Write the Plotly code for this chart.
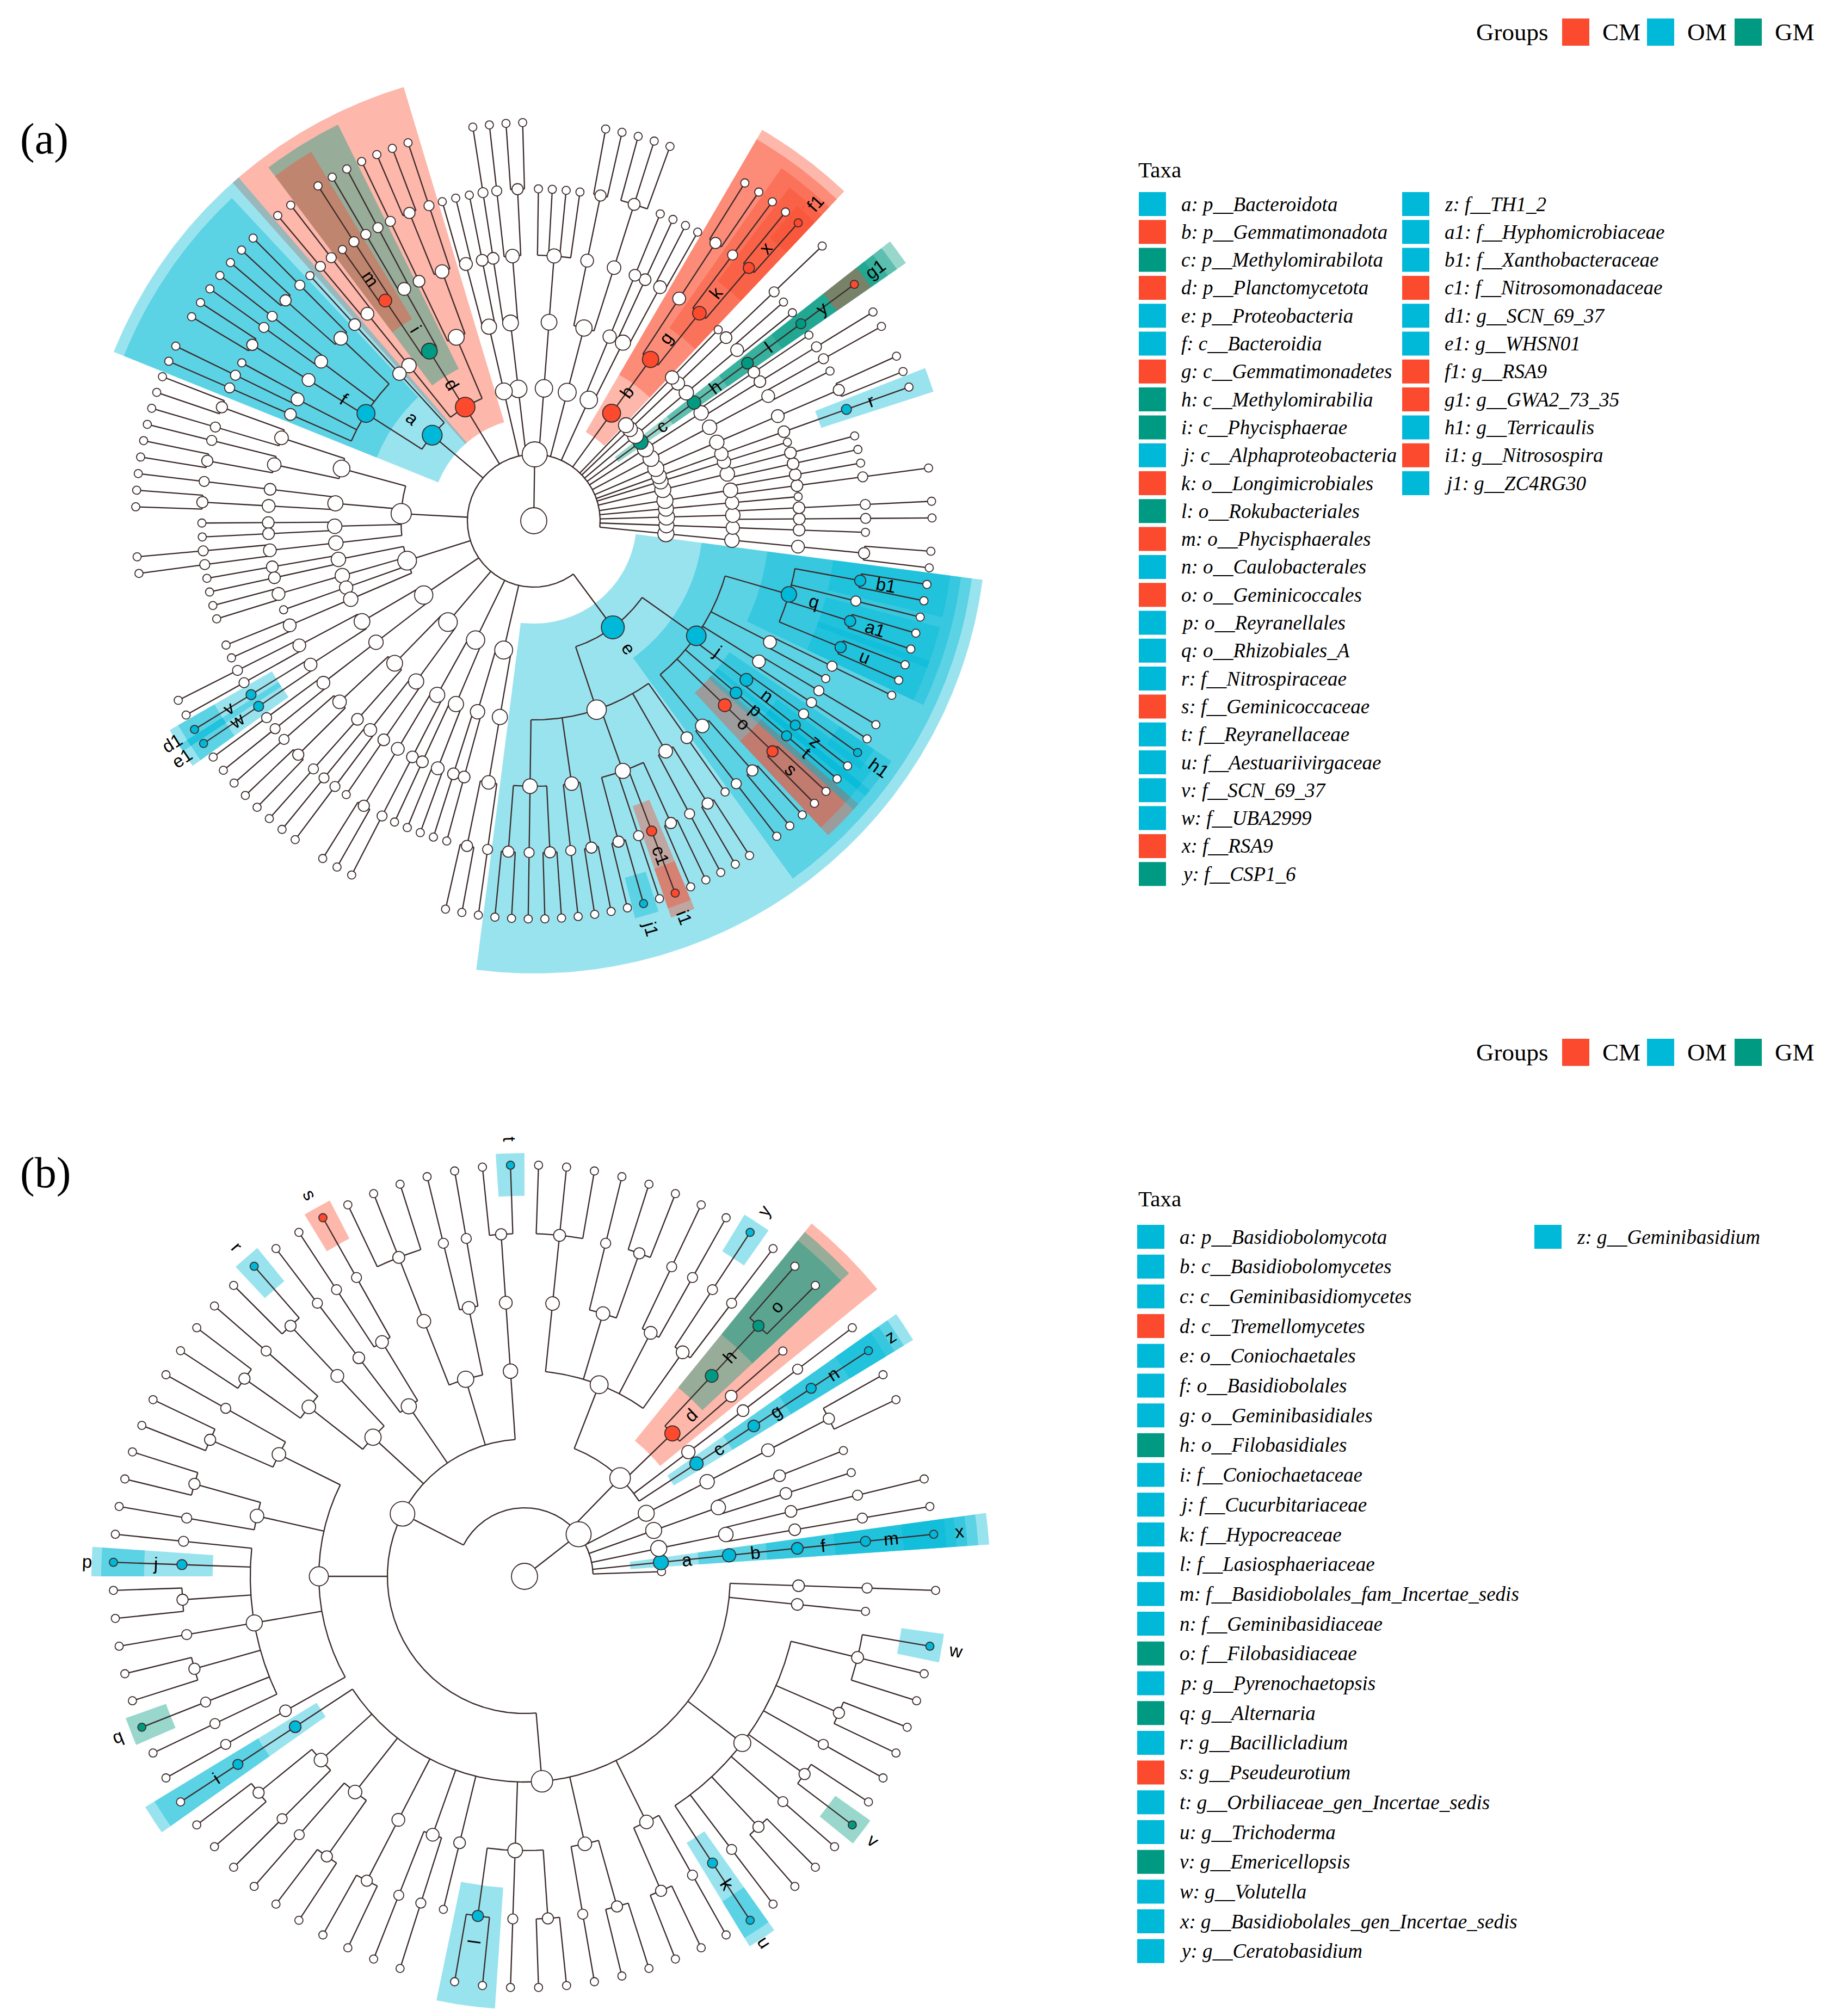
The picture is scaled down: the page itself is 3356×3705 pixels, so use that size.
import math
import plotly.graph_objects as go

W, H = 3356, 3705
SHIFT = 8  # page body margin of the browser
GROUP_COLOR = {"CM": "#FB4A2E", "OM": "#00B8D8", "GM": "#009A82"}
GROUP_ORDER = ["CM", "OM", "GM"]
EDGE = "#3b2a2a"

# ---------------- panel (a): bacteria ----------------
codes_a = ["a", "b", "c", "d", "e", "f", "g", "h", "i", "j", "k", "l", "m", "n", "o", "p", "q",
           "r", "s", "t", "u", "v", "w", "x", "y", "z", "a1", "b1", "c1", "d1", "e1", "f1", "g1",
           "h1", "i1", "j1"]
names_a = ["p__Bacteroidota", "p__Gemmatimonadota", "p__Methylomirabilota", "p__Planctomycetota",
           "p__Proteobacteria", "c__Bacteroidia", "c__Gemmatimonadetes", "c__Methylomirabilia",
           "c__Phycisphaerae", "c__Alphaproteobacteria", "o__Longimicrobiales", "o__Rokubacteriales",
           "o__Phycisphaerales", "o__Caulobacterales", "o__Geminicoccales", "o__Reyranellales",
           "o__Rhizobiales_A", "f__Nitrospiraceae", "f__Geminicoccaceae", "f__Reyranellaceae",
           "f__Aestuariivirgaceae", "f__SCN_69_37", "f__UBA2999", "f__RSA9", "f__CSP1_6",
           "f__TH1_2", "f__Hyphomicrobiaceae", "f__Xanthobacteraceae", "f__Nitrosomonadaceae",
           "g__SCN_69_37", "g__WHSN01", "g__RSA9", "g__GWA2_73_35", "g__Terricaulis",
           "g__Nitrosospira", "g__ZC4RG30"]
groups_a = ["OM", "CM", "GM", "CM", "OM", "OM", "CM", "GM", "GM", "OM", "CM", "GM", "CM", "OM",
            "CM", "OM", "OM", "OM", "CM", "OM", "OM", "OM", "OM", "CM", "GM", "OM", "OM", "OM",
            "CM", "OM", "OM", "CM", "CM", "OM", "CM", "OM"]
hidden_a = []

# phyla under the kingdom node, written as nested groups (numbers = unnamed tips)
phyla_a = [
    "((((1,1))))", "(((1)))", "((((1)),((1))))", "((1))", "((((1)),(1)))",
    "(((1),(1)))", "((1))", "((((1)r)))", "((((1,1))))", "(((1,(1))))", "((((1)),(1)))",
    "((((g1)y)l)h)c",
    "(((1,1)))", "((((1))))", "((1))",
    "((((f1,1)x,(1))k,((1,1)))g)b",
    "(((1,1),(1)),((1)))", "((((1,1,1)),((1,1))))", "(((1,1,1,1)))",
    "((((1,1),(1)),((1))))", "(((1),(1,1)))",
    "((((1),(1,1)),((1))),(((1),(1)),((1),1)m)i,(((1),(1))))d",
    "(((1)),(((1),(1,1)),((1),(1)),((1,1)),(1,(1)),((1)))f)a",
    "((((1,1),(1)),((1),(1,1))),(((1)),((1,1))),((1),(1)),(((1),(1))))",
    "(((1),(1)),((1,1)),(1),((1,1)))",
    "((((1),(1)),((d1)v,(e1)w)),(((1),(1))))",
    "((((1),(1,1)),((1))),(((1),(1)),(1)))",
    "((((1,1)),((1))),((1),(1,1)))",
    "(((1),(1)),(((1,1),(1))))",
    "((((1,1),(1),(1,1)),((1),(1,1)),((1,j1),(1),(i1)c1,(1,1)),((1),(1,1)),(1)),"
    "(((1),(1,1)),((1,1)s)o,((1)t)p,((1)z,(h1))n,((1),(1)),(1,(1)),"
    "((1,1)u,(1,1)a1,(1),(1,1)b1)q)j)e",
]

# ---------------- panel (b): fungi ----------------
codes_b = ["a", "b", "c", "d", "e", "f", "g", "h", "i", "j", "k", "l", "m", "n", "o", "p", "q",
           "r", "s", "t", "u", "v", "w", "x", "y", "z"]
names_b = ["p__Basidiobolomycota", "c__Basidiobolomycetes", "c__Geminibasidiomycetes",
           "c__Tremellomycetes", "o__Coniochaetales", "o__Basidiobolales", "o__Geminibasidiales",
           "o__Filobasidiales", "f__Coniochaetaceae", "f__Cucurbitariaceae", "f__Hypocreaceae",
           "f__Lasiosphaeriaceae", "f__Basidiobolales_fam_Incertae_sedis", "f__Geminibasidiaceae",
           "f__Filobasidiaceae", "g__Pyrenochaetopsis", "g__Alternaria", "g__Bacillicladium",
           "g__Pseudeurotium", "g__Orbiliaceae_gen_Incertae_sedis", "g__Trichoderma",
           "g__Emericellopsis", "g__Volutella", "g__Basidiobolales_gen_Incertae_sedis",
           "g__Ceratobasidium", "g__Geminibasidium"]
groups_b = ["OM", "OM", "OM", "CM", "OM", "OM", "OM", "GM", "OM", "OM", "OM", "OM", "OM", "OM",
            "GM", "OM", "GM", "OM", "CM", "OM", "OM", "GM", "OM", "OM", "OM", "OM"]
hidden_b = ["e"]  # letter not printed on the tree in the original

phyla_b = [
    "1",
    "((((x)m)f)b)a",
    "((((1)),((1))))",
    "(((1),(1)))",
    "((((1,1))))",
    "((((z)n)g)c,(((1))),((1),((1,1)o)h)d,(((1),(y)),((1),(1)),((1,1),(1)),((1,1,1))))",
    "((((t,1))),(((1),(1)),((1,1,1))),(((s),(1)),((1))),(((r,1)),((1),(1,1))),"
    "(((1),(1,1)),((1,1),(1)),((1),(p)j,(1,1),(1),(1,1),(q),(1)),((1))),"
    "(((1)i)e,((1,1),(1)),((1),(1,1)),((1,1)),((1),(1)),(1),((1,1)l,(1),(1,1)),"
    "((1),(1,1)),((1,1),(1)),((u)k,(1),(1,1),(1),(v,1),(1),(1,1),(1,1,w)),(1),((1))))",
]


def parse_tree(text):
    pos = 0

    def read_name():
        nonlocal pos
        start = pos
        while pos < len(text) and text[pos].isalnum():
            pos += 1
        return text[start:pos]

    def read_items():
        nonlocal pos
        if text[pos] == "(":
            pos += 1
            kids = []
            while True:
                kids.extend(read_items())
                ch = text[pos]
                pos += 1
                if ch == ")":
                    break
            return [{"name": read_name(), "kids": kids}]
        name = read_name()
        if name.isdigit():
            return [{"name": "", "kids": []} for _ in range(int(name))]
        return [{"name": name, "kids": []}]

    return read_items()[0]


def layout_tree(kingdom, start_deg, step):
    nodes, leaves = [], []

    def walk(n, depth):
        n["depth"] = depth
        n["r"] = depth * step
        nodes.append(n)
        if not n["kids"]:
            leaves.append(n)
        for k in n["kids"]:
            walk(k, depth + 1)

    walk(kingdom, 1)
    gap = 360.0 / len(leaves)
    for i, lf in enumerate(leaves):
        lf["ang"] = start_deg + (i + 0.5) * gap

    def finish(n):
        if n["kids"]:
            for k in n["kids"]:
                finish(k)
            n["ang"] = sum(k["ang"] for k in n["kids"]) / len(n["kids"])
            n["lo"] = min(k["lo"] for k in n["kids"])
            n["hi"] = max(k["hi"] for k in n["kids"])
            n["rmax"] = max(k["rmax"] for k in n["kids"])
            n["n"] = sum(k["n"] for k in n["kids"])
        else:
            n["lo"] = n["hi"] = n["ang"]
            n["rmax"] = n["r"]
            n["n"] = 1

    finish(kingdom)
    return nodes, gap


def rgba(hexcol, alpha):
    h = hexcol.lstrip("#")
    return "rgba(%d,%d,%d,%.2f)" % (int(h[0:2], 16), int(h[2:4], 16), int(h[4:6], 16), alpha)


def draw_panel(fig, phyla, codes, groups, hidden, cx, cy, start_deg, step, pad):
    group_of = dict(zip(codes, groups))
    kingdom = parse_tree("(" + ",".join(phyla) + ")")
    nodes, gap = layout_tree(kingdom, start_deg, step)

    def xy(r, a):
        t = math.radians(a)
        return cx + r * math.cos(t), cy - r * math.sin(t)

    # highlighted clades, shallow first so deeper ones sit on top
    marked = sorted([n for n in nodes if n["name"]], key=lambda n: n["depth"])
    for n in marked:
        a0, a1 = n["lo"] - pad, n["hi"] + pad
        r0 = n["r"] - 0.45 * step
        r1 = n["rmax"] + max(22, 100 - 20 * (n["depth"] - 2))
        k = max(2, int((a1 - a0) / 0.5) + 1)
        angs = [a0 + (a1 - a0) * i / (k - 1) for i in range(k)]
        pts = [xy(r1, a) for a in angs] + [xy(r0, a) for a in reversed(angs)]
        pts.append(pts[0])
        fig.add_trace(go.Scatter(
            x=[p[0] for p in pts], y=[p[1] for p in pts], mode="lines",
            fill="toself", fillcolor=rgba(GROUP_COLOR[group_of[n["name"]]], 0.4),
            line=dict(width=0), hoverinfo="skip"))

    # branches
    ex, ey = [], []
    q = xy(kingdom["r"], kingdom["ang"])
    ex += [cx, q[0], None]
    ey += [cy, q[1], None]
    for n in nodes:
        if not n["kids"]:
            continue
        angs = [k["ang"] for k in n["kids"]] + [n["ang"]]
        a0, a1 = min(angs), max(angs)
        m = max(2, int((a1 - a0) / 0.5) + 1)
        for i in range(m):
            p = xy(n["r"], a0 + (a1 - a0) * i / (m - 1))
            ex.append(p[0])
            ey.append(p[1])
        ex.append(None)
        ey.append(None)
        for k in n["kids"]:
            p0 = xy(n["r"], k["ang"])
            p1 = xy(k["r"], k["ang"])
            ex += [p0[0], p1[0], None]
            ey += [p0[1], p1[1], None]
    fig.add_trace(go.Scatter(x=ex, y=ey, mode="lines", line=dict(color=EDGE, width=2.3),
                             hoverinfo="skip"))

    # nodes
    nx, ny, ns, nc = [cx], [cy], [48], ["white"]
    for n in nodes:
        p = xy(n["r"], n["ang"])
        if n["kids"]:
            size = min(46, 12 + 5 * math.log(1 + n["n"]) + 3 * (6 - n["depth"]))
        else:
            size = 15
        nx.append(p[0])
        ny.append(p[1])
        ns.append(size)
        nc.append(GROUP_COLOR[group_of[n["name"]]] if n["name"] else "white")
    fig.add_trace(go.Scatter(x=nx, y=ny, mode="markers", hoverinfo="skip",
                             marker=dict(size=ns, color=nc, opacity=1,
                                         line=dict(color=EDGE, width=1.8))))

    # clade letters
    for n in marked:
        if n["name"] in hidden:
            continue
        p = xy(n["r"] + 48, n["ang"])
        a = n["ang"] % 360
        ta = -a if (a <= 90 or a > 270) else 180 - a
        if ta < -180:
            ta += 360
        fig.add_annotation(x=p[0], y=p[1], text=n["name"], showarrow=False, textangle=ta,
                           font=dict(family="Liberation Sans", size=33, color="black"),
                           xanchor="center", yanchor="middle")


def draw_legend(fig, codes, names, groups, y_groups, y_taxa, y0, dy, col1_x, col2_x, split):
    serif = "Liberation Serif"
    fig.add_annotation(x=2848, y=y_groups, text="Groups", showarrow=False, xanchor="right",
                       yanchor="middle", font=dict(family=serif, size=45, color="black"))
    gx = [2871, 3027, 3188]
    for g, x in zip(GROUP_ORDER, gx):
        fig.add_shape(type="rect", x0=x, x1=x + 50, y0=y_groups - 25, y1=y_groups + 25,
                      fillcolor=GROUP_COLOR[g], line=dict(width=0))
        fig.add_annotation(x=x + 72, y=y_groups, text=g, showarrow=False, xanchor="left",
                           yanchor="middle", font=dict(family=serif, size=45, color="black"))
    fig.add_annotation(x=2090, y=y_taxa, text="Taxa", showarrow=False, xanchor="left",
                       yanchor="middle", font=dict(family=serif, size=41, color="black"))
    for i, (c, nm, g) in enumerate(zip(codes, names, groups)):
        col = 0 if i < split else 1
        row = i if i < split else i - split
        x = col1_x if col == 0 else col2_x
        y = y0 + row * dy
        fig.add_shape(type="rect", x0=x, x1=x + 50, y0=y - 22, y1=y + 22,
                      fillcolor=GROUP_COLOR[g], line=dict(width=0))
        fig.add_annotation(x=x + 76, y=y, text="<i>%s: %s</i>" % (c, nm), showarrow=False,
                           xanchor="left", yanchor="middle",
                           font=dict(family=serif, size=37, color="black"))


fig = go.Figure()
draw_panel(fig, phyla_a, codes_a, groups_a, hidden_a, 981, 957, -8.0, 122, 1.7)
draw_panel(fig, phyla_b, codes_b, groups_b, hidden_b, 964, 2897, 0.0, 126, 1.95)

draw_legend(fig, codes_a, names_a, groups_a, 59, 312, 375, 51.3, 2093, 2577, 25)
draw_legend(fig, codes_b, names_b, groups_b, 1934, 2203, 2273, 54.7, 2090, 2820, 25)

for lab, y in [("(a)", 255), ("(b)", 2155)]:
    fig.add_annotation(x=35, y=y, text=lab, showarrow=False, xanchor="left", yanchor="middle",
                       font=dict(family="Liberation Serif", size=80, color="black"))

fig.update_xaxes(range=[SHIFT, W + SHIFT], visible=False, fixedrange=True)
fig.update_yaxes(range=[H + SHIFT, SHIFT], visible=False, fixedrange=True)
fig.update_layout(width=W, height=H, margin=dict(l=0, r=0, t=0, b=0, pad=0),
                  paper_bgcolor="white", plot_bgcolor="white", showlegend=False)

fig.write_html("out.html")
